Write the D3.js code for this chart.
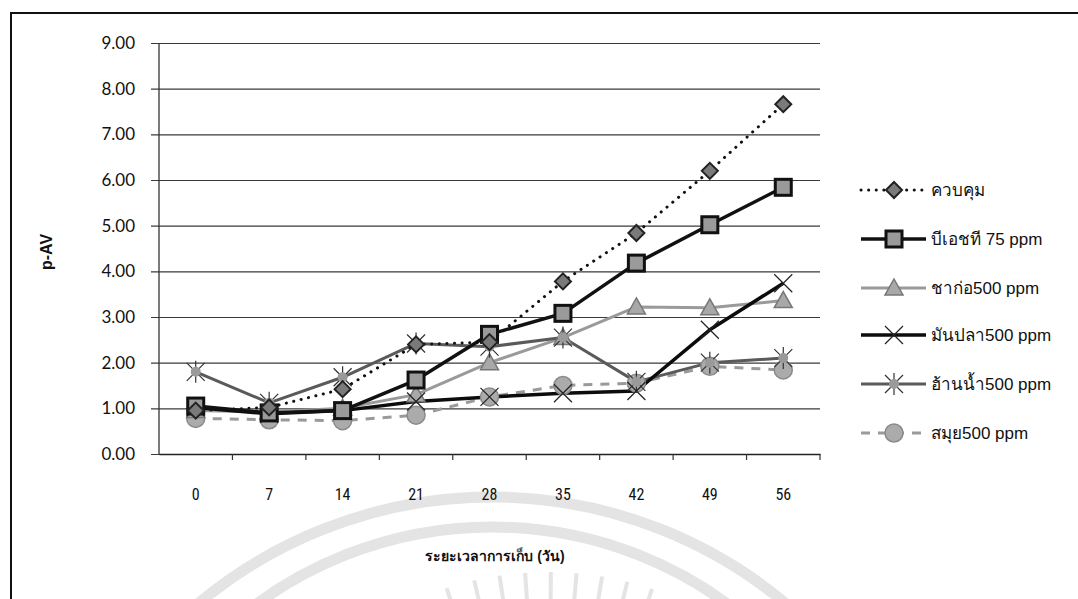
<!DOCTYPE html>
<html>
<head>
<meta charset="utf-8">
<script src="https://cdn.jsdelivr.net/npm/d3@7"></script>
<style>
  html, body { margin: 0; padding: 0; background: #fff; }
  svg { display: block; }
</style>
</head>
<body>
<svg id="chart" width="1078" height="599"></svg>
<script>
// Storage days (x axis) and y ticks
const days = ["0", "7", "14", "21", "28", "35", "42", "49", "56"];
const yTicks = [0, 1, 2, 3, 4, 5, 6, 7, 8, 9];

// p-AV per treatment, one value per storage day
const control   = [0.95, 1.02, 1.42, 2.40, 2.45, 3.78, 4.84, 6.20, 7.66];
const bht75     = [1.05, 0.90, 0.95, 1.62, 2.62, 3.08, 4.18, 5.02, 5.84];
const chakor500 = [0.95, 0.92, 1.00, 1.30, 2.00, 2.55, 3.22, 3.20, 3.36];
const manpla500 = [1.02, 0.88, 0.95, 1.15, 1.25, 1.33, 1.38, 2.72, 3.74];
const hannam500 = [1.80, 1.12, 1.68, 2.42, 2.35, 2.55, 1.58, 2.00, 2.10];
const samui500  = [0.78, 0.75, 0.73, 0.85, 1.25, 1.50, 1.55, 1.92, 1.84];

const seriesNames = ["ควบคุม", "บีเอชที 75 ppm", "ชาก่อ500 ppm", "มันปลา500 ppm", "ฮ้านน้ำ500 ppm", "สมุย500 ppm"];

const series = [
  { name: seriesNames[0], values: control,   color: "#111", width: 3,   dash: "0.1 7.5", cap: "round", marker: "diamond" },
  { name: seriesNames[1], values: bht75,     color: "#111", width: 3.5, dash: null,      cap: "butt",  marker: "square" },
  { name: seriesNames[2], values: chakor500, color: "#9a9a9a", width: 3, dash: null,     cap: "butt",  marker: "triangle" },
  { name: seriesNames[3], values: manpla500, color: "#0c0c0c", width: 3.5, dash: null,   cap: "butt",  marker: "cross" },
  { name: seriesNames[4], values: hannam500, color: "#5a5a5a", width: 3, dash: null,     cap: "butt",  marker: "asterisk" },
  { name: seriesNames[5], values: samui500,  color: "#9a9a9a", width: 3, dash: "9 8",    cap: "butt",  marker: "circle" }
];

const svg = d3.select("#chart");

// faint emblem in the page background
const wm = svg.append("g").attr("fill", "none").attr("stroke", "#e4e4e4");
wm.append("circle").attr("cx", 492).attr("cy", 955).attr("r", 458).attr("stroke-width", 11);
wm.append("circle").attr("cx", 492).attr("cy", 925).attr("r", 398).attr("stroke-width", 11);
[-18, -13, -8.5, -4, 0.5, 5, 9.5, 14, 18.5].forEach(a => {
  const r = Math.PI / 180 * a;
  const cx = 548, cy = 900;
  wm.append("line")
    .attr("x1", cx + Math.sin(r) * 296).attr("y1", cy - Math.cos(r) * 296)
    .attr("x2", cx + Math.sin(r) * 328).attr("y2", cy - Math.cos(r) * 328)
    .attr("stroke-width", 4);
});

// outer frame
svg.append("rect")
  .attr("x", 11).attr("y", 13).attr("width", 1100).attr("height", 640)
  .attr("fill", "none").attr("stroke", "#111").attr("stroke-width", 2);

const x = d3.scaleBand().domain(days).range([159, 820]);
const y = d3.scaleLinear().domain([0, 9]).range([454, 43]);

// horizontal gridlines with y tick labels
const yAxis = d3.axisLeft(y)
  .tickValues(yTicks)
  .tickSize(-(820 - 151))
  .tickSizeOuter(0)
  .tickPadding(16)
  .tickFormat(d3.format(".2f"));

const gy = svg.append("g").attr("transform", "translate(151,0)").call(yAxis);
gy.select(".domain").remove();
gy.selectAll(".tick line").attr("stroke", "#3a3a3a").attr("stroke-width", 1.2);
gy.selectAll(".tick text")
  .attr("fill", "#111")
  .style("font-family", "Lato, 'Open Sans', sans-serif")
  .style("font-size", "17px");

// vertical axis line
svg.append("line")
  .attr("x1", 159).attr("x2", 159).attr("y1", y(9)).attr("y2", y(0))
  .attr("stroke", "#333").attr("stroke-width", 1.3);

// category axis: boundary ticks and centred labels
const xAxis = d3.axisBottom(x).tickSize(0).tickPadding(35);
const gx = svg.append("g").attr("transform", `translate(0,${y(0)})`).call(xAxis);
gx.select(".domain").attr("stroke", "#222").attr("stroke-width", 1.6);
gx.selectAll(".tick text")
  .attr("fill", "#111")
  .style("font-family", "'Liberation Sans Narrow', 'Roboto Condensed', 'DejaVu Sans Condensed', sans-serif")
  .style("font-size", "16px");
const bounds = days.map(d => x(d)).concat([x.range()[1]]);
gx.selectAll(".bnd").data(bounds.slice(1)).enter().append("line")
  .attr("x1", d => d).attr("x2", d => d).attr("y1", 0).attr("y2", 6)
  .attr("stroke", "#333").attr("stroke-width", 1.2);

// axis titles
svg.append("text")
  .attr("transform", "translate(52,252) rotate(-90)")
  .attr("text-anchor", "middle")
  .style("font-family", "'Liberation Sans', Arial, sans-serif")
  .style("font-size", "16px").style("font-weight", "bold")
  .attr("fill", "#111")
  .text("p-AV");

svg.append("text")
  .attr("x", 495).attr("y", 561)
  .attr("text-anchor", "middle")
  .style("font-family", "'Liberation Sans Narrow', 'Liberation Sans', sans-serif")
  .style("font-size", "14px").style("font-weight", "bold")
  .attr("fill", "#111")
  .text("ระยะเวลาการเก็บ (วัน)");

// marker shapes
function drawMarker(g, type, cx, cy) {
  const m = g.append("g").attr("transform", `translate(${cx},${cy})`);
  if (type === "diamond") {
    m.append("path").attr("d", "M0,-8L8,0L0,8L-8,0Z")
      .attr("fill", "#7a7a7a").attr("stroke", "#222").attr("stroke-width", 2);
  } else if (type === "square") {
    m.append("rect").attr("x", -8).attr("y", -8).attr("width", 16).attr("height", 16)
      .attr("fill", "#9a9a9a").attr("stroke", "#111").attr("stroke-width", 3);
  } else if (type === "triangle") {
    m.append("path").attr("d", "M0,-9L9,7L-9,7Z")
      .attr("fill", "#a8a8a8").attr("stroke", "#777").attr("stroke-width", 1.5);
  } else if (type === "cross") {
    m.append("path").attr("d", "M-9,-9L9,9M9,-9L-9,9")
      .attr("stroke", "#222").attr("stroke-width", 1.2);
  } else if (type === "asterisk") {
    m.append("path").attr("d", "M-9,-9L9,9M9,-9L-9,9M0,-11L0,11")
      .attr("stroke", "#333").attr("stroke-width", 1.2);
    m.append("circle").attr("r", 5).attr("fill", "#9a9a9a");
  } else if (type === "circle") {
    m.append("circle").attr("r", 9)
      .attr("fill", "#ababab").attr("stroke", "#8a8a8a").attr("stroke-width", 1.5);
  }
}

const line = d3.line()
  .x((d, i) => x(days[i]) + x.bandwidth() / 2)
  .y(d => y(d));

const plot = svg.append("g");
// draw light series first so the dark lines stay on top
const order = [5, 2, 4, 3, 1, 0];
order.forEach(k => {
  const s = series[k];
  plot.append("path")
    .datum(s.values)
    .attr("d", line)
    .attr("fill", "none")
    .attr("stroke", s.color)
    .attr("stroke-width", s.width)
    .attr("stroke-linecap", s.cap)
    .attr("stroke-linejoin", "round")
    .attr("stroke-dasharray", s.dash);
});
order.forEach(k => {
  const s = series[k];
  s.values.forEach((v, i) => drawMarker(plot, s.marker, x(days[i]) + x.bandwidth() / 2, y(v)));
});

// legend
const legendY = [190, 239, 288, 335, 384, 433];
const lg = svg.append("g");
series.forEach((s, i) => {
  const ly = legendY[i];
  lg.append("line")
    .attr("x1", 861).attr("x2", 926).attr("y1", ly).attr("y2", ly)
    .attr("stroke", s.color).attr("stroke-width", s.width)
    .attr("stroke-linecap", s.cap)
    .attr("stroke-dasharray", s.dash);
  drawMarker(lg, s.marker, 894, ly);
  lg.append("text")
    .attr("x", 931).attr("y", ly + 6)
    .style("font-family", "'Liberation Sans', Arial, sans-serif")
    .style("font-size", "17px")
    .attr("fill", "#111")
    .text(s.name);
});
</script>
</body>
</html>
